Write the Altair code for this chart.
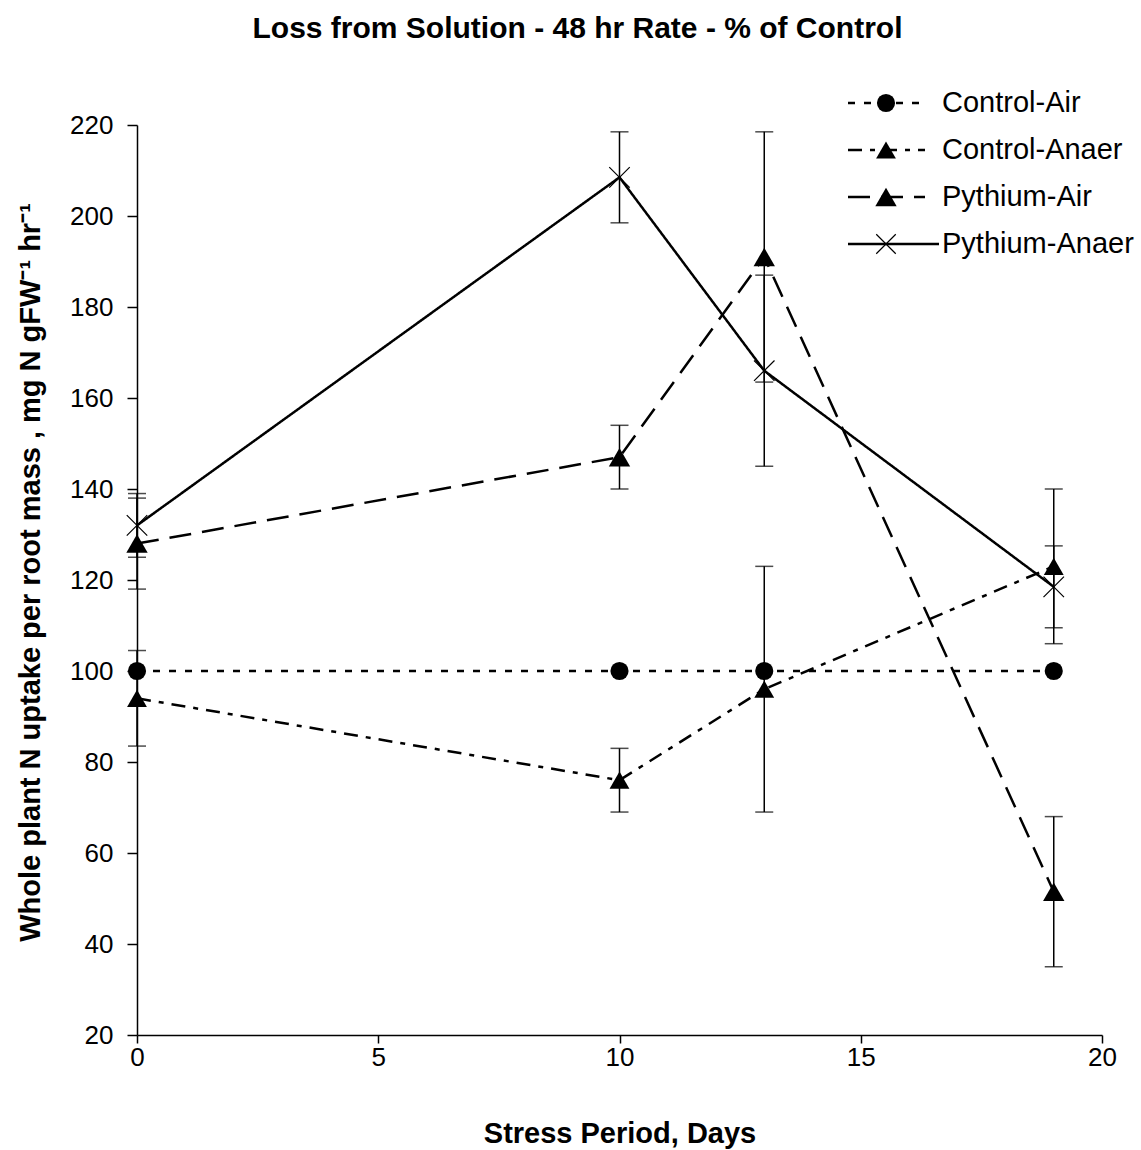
import altair as alt
import pandas as pd

series = ["Control-Air", "Control-Anaer", "Pythium-Air", "Pythium-Anaer"]
days = [0, 10, 13, 19]
control_air = [100, 100, 100, 100]
control_air_err = [0, 0, 0, 0]
control_anaer = [94, 76, 96, 123]
control_anaer_err = [10.5, 7, 27, 17]
pythium_air = [128, 147, 191, 51.5]
pythium_air_err = [10, 7, 27.5, 16.5]
pythium_anaer = [132, 208.5, 166, 118.5]
pythium_anaer_err = [7, 10, 21, 9]

title_text = "Loss from Solution - 48 hr Rate - % of Control"
x_title = "Stress Period, Days"
y_title = "Whole plant N uptake per root mass , mg N gFW\u207b\u00b9 hr\u207b\u00b9"
y_ticks = [20, 40, 60, 80, 100, 120, 140, 160, 180, 200, 220]
x_ticks = [0, 5, 10, 15, 20]

vals = [control_air, control_anaer, pythium_air, pythium_anaer]
errs = [control_air_err, control_anaer_err, pythium_air_err, pythium_anaer_err]
rows = []
for s, v, e in zip(series, vals, errs):
    for d, vv, ee in zip(days, v, e):
        rows.append({"series": s, "day": d, "value": vv, "err": ee,
                     "lo": vv - ee, "hi": vv + ee})
df = pd.DataFrame(rows)
legend_df = pd.DataFrame({"series": series})

FONT = "Liberation Sans"
XPATH = "M-1,-1L1,1M-1,1L1,-1"

dash_scale = alt.Scale(domain=series, range=[[7, 9], [14, 8, 5, 8], [22, 11], [1, 0]])
shape_scale = alt.Scale(domain=series, range=["circle", "triangle-up", "triangle-up", XPATH])
size_scale = alt.Scale(domain=series, range=[330, 520, 520, 420])

xscale = alt.Scale(domain=[0, 20], nice=False, zero=False)
yscale = alt.Scale(domain=[20, 220], nice=False, zero=False)

xenc = alt.X("day:Q", scale=xscale,
             axis=alt.Axis(values=x_ticks, title=x_title, grid=False, tickSize=8,
                           labelFlush=False, labelPadding=1,
                           titleY=98, titleBaseline="middle"))
yenc = alt.Y("value:Q", scale=yscale,
             axis=alt.Axis(values=y_ticks, title=y_title, grid=False, tickSize=10,
                           labelPadding=14, labelFlush=False, titleX=-107, titleY=447,
                           titleBaseline="middle", titleAlign="center", titleAngle=-90))

base = alt.Chart(df)
errbase = base.transform_filter("datum.err > 0")

err_rule = errbase.mark_rule(color="black", strokeWidth=1.5).encode(
    x=alt.X("day:Q", scale=xscale), y=alt.Y("lo:Q", scale=yscale), y2="hi:Q")
cap_lo = errbase.mark_tick(color="black", orient="horizontal", size=18, thickness=1.5).encode(
    x=alt.X("day:Q", scale=xscale), y=alt.Y("lo:Q", scale=yscale))
cap_hi = errbase.mark_tick(color="black", orient="horizontal", size=18, thickness=1.5).encode(
    x=alt.X("day:Q", scale=xscale), y=alt.Y("hi:Q", scale=yscale))

lines = base.mark_line(color="black", strokeWidth=2.5).encode(
    x=xenc, y=yenc,
    strokeDash=alt.StrokeDash("series:N", scale=dash_scale, legend=None),
    detail="series:N")

pts = base.transform_filter("datum.series != 'Pythium-Anaer'").mark_point(
    filled=True, color="black", opacity=1).encode(
    x=alt.X("day:Q", scale=xscale), y=alt.Y("value:Q", scale=yscale),
    shape=alt.Shape("series:N", scale=shape_scale, legend=None),
    size=alt.Size("series:N", scale=size_scale, legend=None))

xpts = base.transform_filter("datum.series == 'Pythium-Anaer'").mark_point(
    shape=XPATH, filled=False, color="black", strokeWidth=1.2, size=420, opacity=1).encode(
    x=alt.X("day:Q", scale=xscale), y=alt.Y("value:Q", scale=yscale))

main = alt.layer(err_rule, cap_lo, cap_hi, lines, pts, xpts)

lyenc = alt.Y("series:N", scale=alt.Scale(type="point", domain=series, range=[-22, 119], padding=0),
              axis=None)
lbase = alt.Chart(legend_df)
leg_lines = lbase.transform_filter("datum.series != 'Pythium-Anaer'").mark_rule(
    color="black", strokeWidth=2.5).encode(
    x=alt.value(711), x2=alt.value(788), y=lyenc,
    strokeDash=alt.StrokeDash("series:N", scale=dash_scale, legend=None))
leg_solid = lbase.transform_filter("datum.series == 'Pythium-Anaer'").mark_rule(
    color="black", strokeWidth=2.5).encode(
    x=alt.value(711), x2=alt.value(802), y=lyenc)
leg_pts = lbase.transform_filter("datum.series != 'Pythium-Anaer'").mark_point(
    filled=True, color="black", opacity=1).encode(
    x=alt.value(749), y=lyenc,
    shape=alt.Shape("series:N", scale=shape_scale, legend=None),
    size=alt.Size("series:N", scale=size_scale, legend=None))
leg_x = lbase.transform_filter("datum.series == 'Pythium-Anaer'").mark_point(
    shape=XPATH, filled=False, color="black", strokeWidth=1.2, size=380, opacity=1).encode(
    x=alt.value(749), y=lyenc)
leg_text = lbase.mark_text(align="left", baseline="middle", fontSize=29, font=FONT,
                           color="black").encode(
    x=alt.value(805), y=lyenc, text="series:N")

legend = alt.layer(leg_lines, leg_solid, leg_pts, leg_x, leg_text)

chart = alt.layer(main, legend).resolve_scale(y="independent").properties(
    width=965, height=910,
    padding={"left": 137, "top": 125, "right": 39, "bottom": 115},
    autosize="none",
    background="white",
    title=alt.TitleParams(title_text, fontSize=30, fontWeight="bold", font=FONT,
                          anchor="middle", dx=-42, offset=45, color="black"),
).configure_view(stroke=None).configure_axis(
    domainColor="black", domainWidth=1.5, tickColor="black", tickWidth=1.5,
    labelColor="black", labelFont=FONT, labelFontSize=26,
    titleColor="black", titleFont=FONT, titleFontSize=29, titleFontWeight="bold",
)

chart.save("out.html", embed_options={"renderer": "svg", "actions": False})
